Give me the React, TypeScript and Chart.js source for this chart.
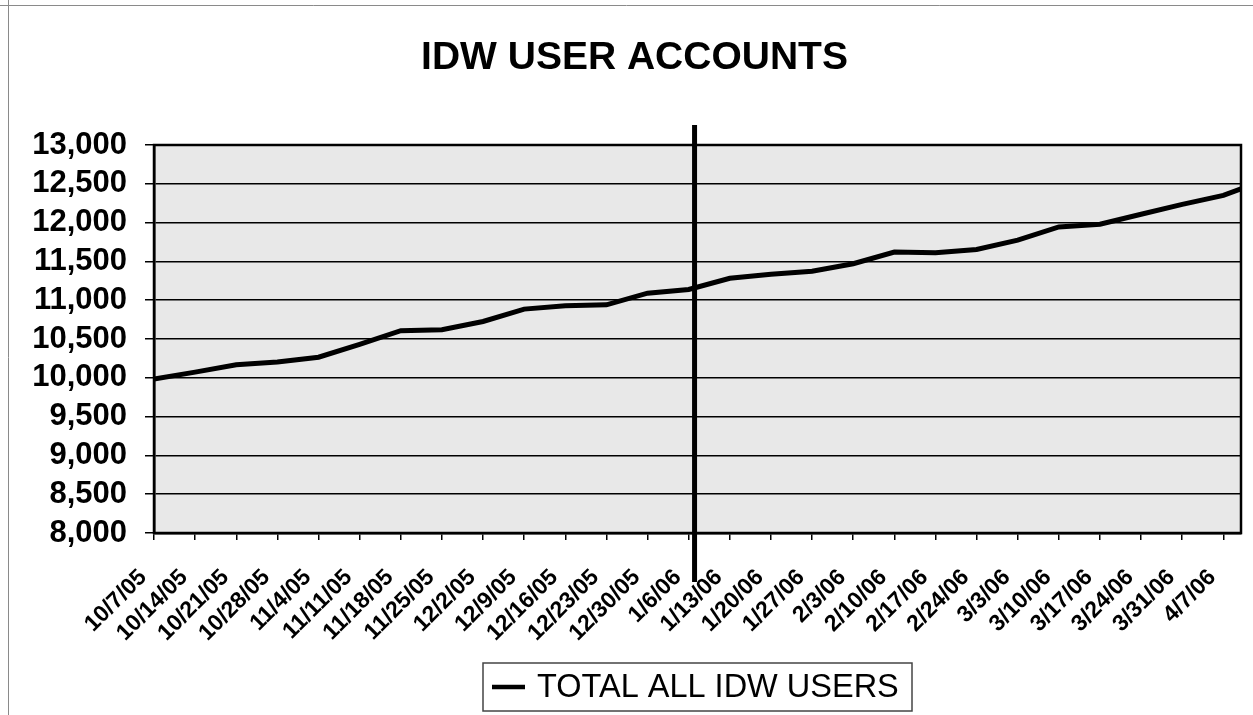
import React, { useEffect, useRef } from "react";
import { Chart, registerables } from "chart.js";

Chart.register(...registerables);

const chartTitle = "IDW USER ACCOUNTS";
const seriesName = "TOTAL ALL IDW USERS";

const tickLabels = [
  "10/7/05", "10/14/05", "10/21/05", "10/28/05", "11/4/05", "11/11/05", "11/18/05",
  "11/25/05", "12/2/05", "12/9/05", "12/16/05", "12/23/05", "12/30/05", "1/6/06",
  "1/13/06", "1/20/06", "1/27/06", "2/3/06", "2/10/06", "2/17/06", "2/24/06",
  "3/3/06", "3/10/06", "3/17/06", "3/24/06", "3/31/06", "4/7/06",
];

// days since 10/7/05
const days = [
  0, 7, 14, 21, 28, 35, 42, 49, 56, 63, 70, 77, 84, 91,
  98, 105, 112, 119, 126, 133, 140, 147, 154, 161, 168, 175, 182, 185,
];

const users = [
  9985, 10073, 10167, 10205, 10265, 10432, 10607, 10620, 10726, 10885, 10927, 10940, 11090, 11138,
  11282, 11333, 11372, 11470, 11620, 11611, 11654, 11774, 11944, 11979, 12107, 12235, 12350, 12436,
];

const yTicks = [8000, 8500, 9000, 9500, 10000, 10500, 11000, 11500, 12000, 12500, 13000];

const xMin = 0;
const xMax = 185;
const tickStepDays = 7;
const yMin = 8000;
const yMax = 13000;
const markerDay = 92;

const FONT = "'Liberation Sans', Arial, Helvetica, sans-serif";

const decorPlugin = {
  id: "decor",
  beforeDraw(chart: any) {
    const { ctx, chartArea } = chart;
    ctx.save();
    ctx.fillStyle = "#ffffff";
    ctx.fillRect(0, 0, chart.width, chart.height);
    ctx.strokeStyle = "#8a8a8a";
    ctx.lineWidth = 1;
    ctx.beginPath();
    ctx.moveTo(8.5, 0);
    ctx.lineTo(8.5, chart.height);
    ctx.moveTo(0, 5.5);
    ctx.lineTo(chart.width, 5.5);
    ctx.stroke();
    ctx.fillStyle = "#e8e8e8";
    ctx.fillRect(chartArea.left, chartArea.top, chartArea.right - chartArea.left, chartArea.bottom - chartArea.top);
    ctx.restore();
  },
  afterDatasetsDraw(chart: any) {
    const { ctx, chartArea, scales } = chart;
    ctx.save();
    ctx.strokeStyle = "#000";
    ctx.lineWidth = 2.5;
    ctx.strokeRect(chartArea.left, chartArea.top, chartArea.right - chartArea.left, chartArea.bottom - chartArea.top);
    const mx = scales.x.getPixelForValue(markerDay);
    ctx.lineWidth = 5;
    ctx.beginPath();
    ctx.moveTo(mx, chartArea.top - 20);
    ctx.lineTo(mx, chartArea.bottom + 49);
    ctx.stroke();
    ctx.restore();
  },
  afterDraw(chart: any) {
    const { ctx, chartArea } = chart;
    ctx.save();
    ctx.fillStyle = "#000";
    ctx.font = `bold 39px ${FONT}`;
    ctx.textAlign = "center";
    ctx.textBaseline = "middle";
    ctx.fillText(chartTitle, chart.width / 2 + 8, 58);
    const cx = (chartArea.left + chartArea.right) / 2;
    const boxW = 429;
    const boxH = 48;
    const bx = cx - boxW / 2;
    const by = 663;
    ctx.strokeStyle = "#444";
    ctx.lineWidth = 1.5;
    ctx.strokeRect(bx, by, boxW, boxH);
    const ly = by + boxH / 2;
    ctx.strokeStyle = "#000";
    ctx.lineWidth = 4.5;
    ctx.beginPath();
    ctx.moveTo(bx + 9, ly);
    ctx.lineTo(bx + 42, ly);
    ctx.stroke();
    ctx.font = `32.5px ${FONT}`;
    ctx.textAlign = "left";
    ctx.fillText(seriesName, bx + 54, ly + 1);
    ctx.restore();
  },
};

export default function App() {
  const canvasRef = useRef<HTMLCanvasElement | null>(null);

  useEffect(() => {
    if (!canvasRef.current) return;
    const chart = new Chart(canvasRef.current, {
      type: "line",
      data: {
        datasets: [
          {
            label: seriesName,
            data: days.map((d, i) => ({ x: d, y: users[i] })),
            borderColor: "#000",
            borderWidth: 5,
            pointRadius: 0,
            tension: 0,
            fill: false,
          },
        ],
      },
      options: {
        responsive: false,
        animation: false,
        layout: { padding: { top: 145, right: 12, left: 0, bottom: 0 } },
        plugins: {
          legend: { display: false },
          title: { display: false },
          tooltip: { enabled: false },
        },
        scales: {
          x: {
            type: "linear",
            min: xMin,
            max: xMax,
            afterBuildTicks: (axis: any) => {
              axis.ticks = tickLabels.map((_, i) => ({ value: i * tickStepDays }));
            },
            afterFit: (scale: any) => {
              scale.height = 182;
              scale.paddingLeft = 0;
              scale.paddingRight = 0;
            },
            ticks: {
              autoSkip: false,
              maxRotation: 45,
              minRotation: 45,
              padding: 24,
              labelOffset: -11,
              color: "#000",
              font: { family: FONT, size: 23, weight: "bold" },
              callback: (_v: any, index: number) => tickLabels[index],
            },
            grid: {
              display: true,
              drawOnChartArea: false,
              drawTicks: true,
              tickLength: 7,
              color: "#000",
              lineWidth: 1.5,
            },
            border: { display: true, color: "#000", width: 2.5 },
          },
          y: {
            min: yMin,
            max: yMax,
            afterBuildTicks: (axis: any) => {
              axis.ticks = yTicks.map((v) => ({ value: v }));
            },
            afterFit: (scale: any) => {
              scale.width = 154;
            },
            ticks: {
              autoSkip: false,
              padding: 18,
              color: "#000",
              font: { family: FONT, size: 31, weight: "bold", lineHeight: 1 },
              callback: (v: any) => Number(v).toLocaleString("en-US"),
            },
            grid: {
              color: "#000",
              lineWidth: 1.5,
              drawTicks: true,
              tickLength: 9,
            },
            border: { display: true, color: "#000", width: 2.5 },
          },
        },
      },
      plugins: [decorPlugin],
    });
    return () => chart.destroy();
  }, []);

  return (
    <div style={{ position: "absolute", left: 0, top: 0, width: 1253, height: 715 }}>
      <canvas ref={canvasRef} width={1253} height={715} style={{ display: "block" }} />
    </div>
  );
}
